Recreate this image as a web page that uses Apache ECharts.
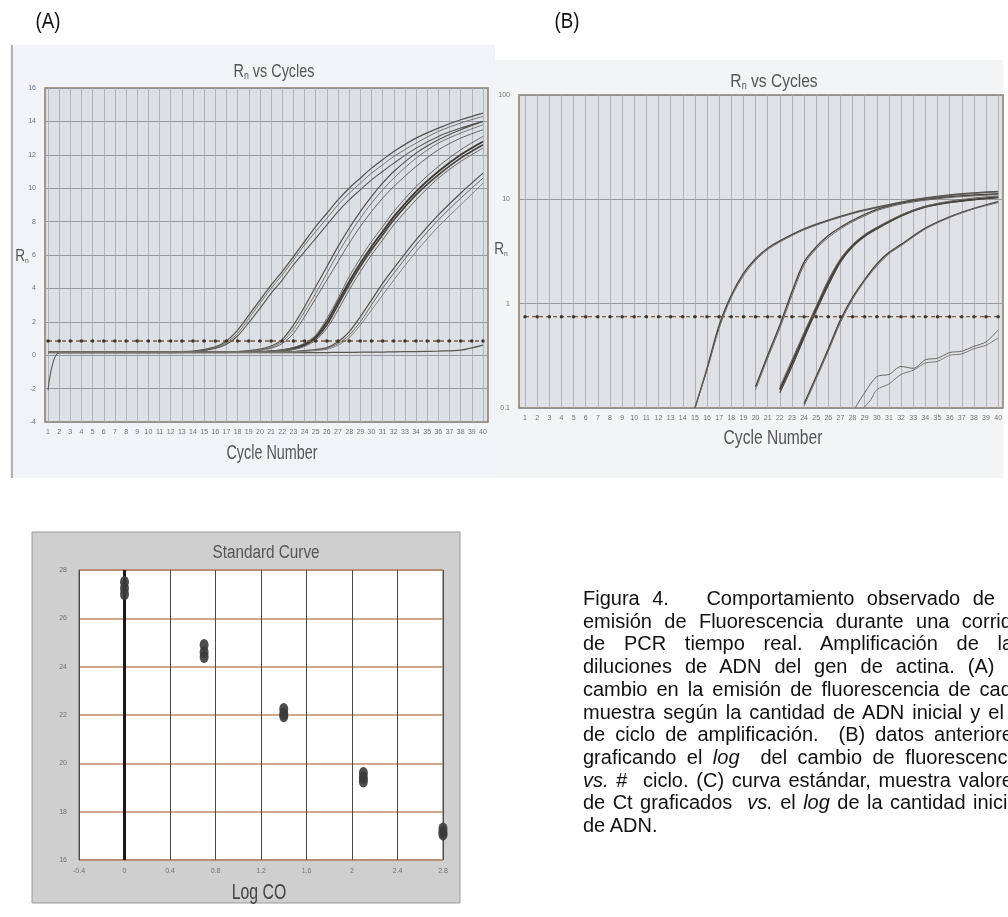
<!DOCTYPE html>
<html><head><meta charset="utf-8">
<script src="https://cdn.jsdelivr.net/npm/echarts@6/dist/echarts.min.js"></script>
<style>
html,body{margin:0;padding:0;width:1008px;height:917px;overflow:hidden;background:#fff;}
#chart{position:absolute;left:0;top:0;width:1008px;height:917px;}
#caption{position:absolute;left:583px;top:587px;width:440px;font-family:'Liberation Sans',Arial,sans-serif;font-size:20px;line-height:22.7px;color:#111;}
#caption div{white-space:nowrap;text-align:justify;text-align-last:justify;}
#caption div.last{text-align-last:left;}
</style></head>
<body>
<div id="chart"></div>
<div id="caption">
<div>Figura 4.&nbsp;&nbsp; Comportamiento observado de la</div>
<div>emisión de Fluorescencia durante una corrida</div>
<div>de PCR tiempo real. Amplificación de las</div>
<div>diluciones de ADN del gen de actina. (A) el</div>
<div>cambio en la emisión de fluorescencia de cada</div>
<div>muestra según la cantidad de ADN inicial y el #</div>
<div>de ciclo de amplificación.&nbsp; (B) datos anteriores</div>
<div>graficando el <i>log</i>&nbsp; del cambio de fluorescencia</div>
<div><i>vs.</i> #&nbsp; ciclo. (C) curva estándar, muestra valores</div>
<div>de Ct graficados&nbsp; <i>vs.</i> el <i>log</i> de la cantidad inicial</div>
<div class="last">de ADN.</div>
</div>
<script>
// ---------- tick labels ----------
const cycleTicks = [1,2,3,4,5,6,7,8,9,10,11,12,13,14,15,16,17,18,19,20,21,22,23,24,25,26,27,28,29,30,31,32,33,34,35,36,37,38,39,40];

// ---------- (A) linear Rn vs cycles ----------
const cyclesA = [1, 2, 5, 10, 14, 16, 17, 18, 19, 20, 21, 22, 23, 24, 25, 26, 27, 28, 29, 30, 31, 32, 34, 36, 38, 40];
const A_g1a = [0.2,0.2,0.2,0.2,0.25,0.5,0.85,1.5,2.4,3.3,4.2,5.0,5.9,6.8,7.7,8.5,9.3,10.0,10.6,11.2,11.7,12.2,13.0,13.6,14.1,14.5];
const A_g1b = [0.2,0.2,0.2,0.2,0.22,0.45,0.75,1.3,2.2,3.1,4.0,4.8,5.7,6.6,7.4,8.2,9.0,9.7,10.3,10.9,11.4,11.9,12.7,13.4,13.9,14.3];
const A_g1c = [-2.1,0.15,0.15,0.15,0.2,0.4,0.65,1.15,1.95,2.8,3.7,4.5,5.4,6.2,7.0,7.8,8.6,9.3,9.9,10.5,11.0,11.5,12.4,13.1,13.6,14.0];
const A_g2a = [0.2,0.2,0.2,0.2,0.2,0.2,0.2,0.22,0.27,0.36,0.55,0.95,1.8,2.9,4.1,5.3,6.5,7.6,8.6,9.5,10.3,11.0,12.1,12.9,13.5,14.0];
const A_g2b = [0.2,0.2,0.2,0.2,0.2,0.2,0.2,0.21,0.25,0.32,0.48,0.82,1.55,2.6,3.7,4.9,6.1,7.2,8.2,9.1,9.9,10.6,11.8,12.7,13.3,13.8];
const A_g2c = [0.15,0.15,0.15,0.15,0.15,0.15,0.15,0.18,0.22,0.28,0.42,0.7,1.3,2.3,3.4,4.5,5.6,6.7,7.7,8.6,9.4,10.1,11.3,12.3,13.0,13.5];
const A_g3a = [0.2,0.2,0.2,0.2,0.2,0.2,0.2,0.2,0.2,0.2,0.24,0.3,0.42,0.65,1.1,2.0,3.2,4.4,5.5,6.5,7.4,8.3,9.8,11.0,12.0,12.8];
const A_g3b = [0.2,0.2,0.2,0.2,0.2,0.2,0.2,0.2,0.2,0.2,0.23,0.28,0.38,0.6,1.0,1.8,3.0,4.2,5.3,6.3,7.2,8.1,9.6,10.8,11.8,12.6];
const A_g3c = [0.18,0.18,0.18,0.18,0.18,0.18,0.18,0.18,0.18,0.18,0.2,0.25,0.34,0.52,0.9,1.6,2.7,3.9,5.0,6.0,6.9,7.8,9.3,10.6,11.6,12.4];
const A_g3d = [0.2,0.2,0.2,0.2,0.2,0.2,0.2,0.2,0.2,0.2,0.25,0.32,0.46,0.72,1.2,2.2,3.4,4.7,5.8,6.8,7.7,8.6,10.1,11.3,12.3,13.1];
const A_g4a = [0.2,0.2,0.2,0.2,0.2,0.2,0.2,0.2,0.2,0.2,0.2,0.2,0.22,0.27,0.34,0.45,0.8,1.4,2.3,3.3,4.3,5.2,6.9,8.4,9.7,10.9];
const A_g4b = [0.2,0.2,0.2,0.2,0.2,0.2,0.2,0.2,0.2,0.2,0.2,0.2,0.21,0.25,0.31,0.4,0.7,1.2,2.0,3.0,4.0,4.9,6.6,8.1,9.4,10.6];
const A_g4c = [0.18,0.18,0.18,0.18,0.18,0.18,0.18,0.18,0.18,0.18,0.18,0.18,0.19,0.22,0.28,0.35,0.6,1.05,1.8,2.7,3.6,4.5,6.2,7.7,9.0,10.3];
const A_ntc = [0.15,0.15,0.15,0.15,0.15,0.15,0.15,0.15,0.15,0.15,0.15,0.15,0.15,0.16,0.16,0.16,0.17,0.17,0.18,0.18,0.19,0.2,0.22,0.25,0.3,0.6];
const thresholdA = 0.85;

// ---------- (B) log Rn vs cycles ----------
const B_g1_cyc = [15, 16, 17, 18, 19, 20, 21, 22, 24, 26, 28, 30, 32, 34, 36, 38, 40];
const B_g1a = [0.1, 0.24, 0.62, 1.2, 1.95, 2.7, 3.4, 4.0, 5.2, 6.3, 7.4, 8.4, 9.4, 10.3, 11.0, 11.5, 11.9];
const B_g1b = [0.1, 0.23, 0.58, 1.15, 1.85, 2.6, 3.3, 3.9, 5.1, 6.2, 7.3, 8.3, 9.3, 10.2, 10.9, 11.4, 11.8];
const B_g2_cyc = [20, 21, 22, 23, 24, 25, 26, 27, 28, 30, 32, 34, 36, 38, 40];
const B_g2a = [0.16, 0.32, 0.62, 1.3, 2.5, 3.5, 4.5, 5.4, 6.3, 8.0, 9.2, 10.0, 10.6, 11.0, 11.3];
const B_g2b = [0.15, 0.3, 0.58, 1.2, 2.35, 3.35, 4.3, 5.2, 6.1, 7.8, 9.0, 9.8, 10.4, 10.8, 11.1];
const B_g3_cyc = [22, 23, 24, 25, 26, 27, 28, 29, 30, 32, 34, 36, 38, 40];
const B_g3a = [0.15, 0.27, 0.5, 0.9, 1.6, 2.6, 3.6, 4.5, 5.3, 7.0, 8.5, 9.4, 10.0, 10.5];
const B_g3b = [0.14, 0.25, 0.47, 0.85, 1.5, 2.5, 3.5, 4.4, 5.2, 6.9, 8.4, 9.3, 9.9, 10.4];
const B_g3c = [0.16, 0.29, 0.53, 0.95, 1.7, 2.7, 3.7, 4.6, 5.4, 7.1, 8.6, 9.6, 10.3, 10.8];
const B_g4_cyc = [24, 25, 26, 27, 28, 29, 30, 31, 32, 34, 36, 38, 40];
const B_g4a = [0.11, 0.2, 0.37, 0.7, 1.15, 1.7, 2.4, 3.1, 3.7, 5.3, 6.8, 8.2, 9.5];
const B_g4b = [0.105, 0.19, 0.35, 0.66, 1.1, 1.65, 2.3, 3.0, 3.6, 5.2, 6.7, 8.1, 9.3];
const B_ntc1_cyc = [28.2, 29, 30, 31, 32, 33, 34, 35, 36, 37, 38, 39, 40];
const B_ntc1 = [0.1, 0.14, 0.2, 0.21, 0.25, 0.24, 0.29, 0.3, 0.34, 0.35, 0.39, 0.43, 0.56];
const B_ntc2_cyc = [28.9, 29.5, 30, 31, 32, 33, 34, 35, 36, 37, 38, 39, 40];
const B_ntc2 = [0.1, 0.12, 0.15, 0.17, 0.21, 0.23, 0.27, 0.28, 0.32, 0.33, 0.37, 0.4, 0.47];
const thresholdB = 0.75;

// ---------- (C) standard curve ----------
const logCO = [0, 0, 0, 0.7, 0.7, 0.7, 1.4, 1.4, 1.4, 2.1, 2.1, 2.1, 2.8, 2.8, 2.8];
const ctVals = [27.5, 27.25, 27.0, 24.9, 24.6, 24.4, 22.25, 22.05, 21.95, 19.6, 19.4, 19.25, 17.3, 17.15, 17.05];

// ---------- build ----------
const FONT = "'Liberation Sans',Arial,sans-serif";
function zip(xs, ys) { return xs.map((x, i) => [x, ys[i]]); }
function curve(idx, xs, ys, color, width) {
  return { type: 'line', xAxisIndex: idx, yAxisIndex: idx, data: zip(xs, ys), smooth: 0.3,
    showSymbol: false, symbol: 'none', lineStyle: { color: color, width: width }, z: 3, silent: true };
}
function threshold(idx, val) {
  return { type: 'line', xAxisIndex: idx, yAxisIndex: idx, data: cycleTicks.map(c => [c, val]),
    symbol: 'circle', symbolSize: 3.5, itemStyle: { color: '#3c3630' },
    lineStyle: { color: '#7a5a40', width: 1.3, type: [4, 3] }, z: 4, silent: true };
}
function label(x, y, text, size, color, sx, rich) {
  const st = { text: text, fontSize: size, fontFamily: FONT, fill: color, align: 'center', verticalAlign: 'middle' };
  if (rich) st.rich = rich;
  return { type: 'text', z: 10, x: x, y: y, scaleX: sx, style: st };
}
const subRich = (s) => ({ s: { fontSize: s, fontFamily: FONT, fill: '#555', verticalAlign: 'bottom' } });
const series = [
  curve(0, cyclesA, A_ntc, '#5a5652', 1.3),
  curve(0, cyclesA, A_g1a, '#55514d', 1.2), curve(0, cyclesA, A_g1b, '#75716d', 1), curve(0, cyclesA, A_g1c, '#5a5652', 1.1),
  curve(0, cyclesA, A_g2a, '#55514d', 1.2), curve(0, cyclesA, A_g2b, '#77736f', 1), curve(0, cyclesA, A_g2c, '#66625e', 1),
  curve(0, cyclesA, A_g3a, '#3c3834', 1.8), curve(0, cyclesA, A_g3b, '#45413d', 1.6), curve(0, cyclesA, A_g3c, '#6a6662', 1), curve(0, cyclesA, A_g3d, '#6a6662', 1),
  curve(0, cyclesA, A_g4a, '#55514d', 1.2), curve(0, cyclesA, A_g4b, '#6a6662', 1), curve(0, cyclesA, A_g4c, '#85817d', 1),
  threshold(0, thresholdA),
  curve(1, B_g1_cyc, B_g1a, '#4a4642', 1.4), curve(1, B_g1_cyc, B_g1b, '#6a6662', 1),
  curve(1, B_g2_cyc, B_g2a, '#4a4642', 1.4), curve(1, B_g2_cyc, B_g2b, '#6a6662', 1),
  curve(1, B_g3_cyc, B_g3a, '#3a3632', 1.8), curve(1, B_g3_cyc, B_g3b, '#4a4642', 1.3), curve(1, B_g3_cyc, B_g3c, '#6a6662', 1),
  curve(1, B_g4_cyc, B_g4a, '#4a4642', 1.4), curve(1, B_g4_cyc, B_g4b, '#6a6662', 1),
  curve(1, B_ntc1_cyc, B_ntc1, '#6a6662', 1), curve(1, B_ntc2_cyc, B_ntc2, '#7a7672', 1),
  threshold(1, thresholdB),
  { type: 'scatter', xAxisIndex: 2, yAxisIndex: 2, data: zip(logCO, ctVals), symbol: 'circle', symbolSize: [9, 12],
    itemStyle: { color: '#3a3a3a', opacity: 0.9 }, z: 5, silent: true,
    markLine: { silent: true, symbol: 'none', label: { show: false }, data: [{ xAxis: 0 }],
      lineStyle: { color: '#1a1a1a', width: 3, type: 'solid' } } }
];

const cycAxisLabel = { customValues: cycleTicks, fontSize: 7, color: '#707070', margin: 7, fontFamily: FONT };
const option = {
  animation: false,
  grid: [
    { left: 45, top: 88, width: 443, height: 334, show: true, backgroundColor: '#dcdfe3', borderColor: '#8d7b68', borderWidth: 1.5 },
    { left: 519, top: 95, width: 484, height: 313, show: true, backgroundColor: '#dfe1e4', borderColor: '#8d7b68', borderWidth: 1.5 },
    { left: 79, top: 570, width: 364, height: 290, show: true, backgroundColor: '#ffffff', borderColor: '#555555', borderWidth: 1 }
  ],
  xAxis: [
    { gridIndex: 0, type: 'value', min: 0.73, max: 40.45, axisLine: { show: false }, axisTick: { show: false, customValues: cycleTicks },
      axisLabel: cycAxisLabel, splitLine: { show: true, lineStyle: { color: '#a3a8ae', width: 0.8 } } },
    { gridIndex: 1, type: 'value', min: 0.5, max: 40.4, axisLine: { show: false }, axisTick: { show: false, customValues: cycleTicks },
      axisLabel: cycAxisLabel, splitLine: { show: true, lineStyle: { color: '#a3a8ae', width: 0.8 } } },
    { gridIndex: 2, type: 'value', min: -0.4, max: 2.8, interval: 0.4, axisLine: { show: false }, axisTick: { show: false },
      axisLabel: { fontSize: 7, color: '#707070', margin: 8, fontFamily: FONT },
      splitLine: { show: true, lineStyle: { color: '#4a4a4a', width: 1 } } }
  ],
  yAxis: [
    { gridIndex: 0, type: 'value', min: -4, max: 16, interval: 2, axisLine: { show: false }, axisTick: { show: false },
      axisLabel: { fontSize: 7, color: '#707070', margin: 9, fontFamily: FONT },
      splitLine: { show: true, lineStyle: { color: '#8c9197', width: 0.9 } } },
    { gridIndex: 1, type: 'log', logBase: 10, min: 0.1, max: 100, axisLine: { show: false }, axisTick: { show: false },
      axisLabel: { fontSize: 7, color: '#707070', margin: 9, fontFamily: FONT },
      splitLine: { show: true, lineStyle: { color: '#8c9197', width: 0.9 } } },
    { gridIndex: 2, type: 'value', min: 16, max: 28, interval: 2, axisLine: { show: false }, axisTick: { show: false },
      axisLabel: { fontSize: 7, color: '#707070', margin: 12, fontFamily: FONT },
      splitLine: { show: true, lineStyle: { color: '#c08a68', width: 1.5 } } }
  ],
  graphic: [
    { type: 'rect', z: -10, shape: { x: 10, y: 45, width: 485, height: 433 }, style: { fill: '#f1f3f6' } },
    { type: 'line', z: -9, shape: { x1: 12, y1: 45, x2: 12, y2: 478 }, style: { stroke: '#9a9a9a', lineWidth: 1.5 } },
    { type: 'rect', z: -10, shape: { x: 495, y: 60, width: 508, height: 418 }, style: { fill: '#f3f4f6' } },
    { type: 'rect', z: -10, shape: { x: 32, y: 532, width: 428, height: 371 }, style: { fill: '#cfcfcf', stroke: '#9a9a9a', lineWidth: 1 } },
    label(48, 22, '(A)', 22, '#111', 0.85),
    label(567, 22, '(B)', 22, '#111', 0.85),
    label(274, 72, 'R{s|n} vs Cycles', 18, '#555', 0.8, subRich(11)),
    label(774, 82, 'R{s|n} vs Cycles', 19, '#555', 0.82, subRich(11)),
    label(272, 453, 'Cycle Number', 20, '#555', 0.72),
    label(773, 438, 'Cycle Number', 20, '#555', 0.78),
    label(22, 257, 'R{s|n}', 16, '#555', 0.85, subRich(8)),
    label(501, 250, 'R{s|n}', 16, '#555', 0.85, subRich(8)),
    label(266, 553, 'Standard Curve', 18, '#555', 0.85),
    label(259, 893, 'Log CO', 22, '#444', 0.72)
  ],
  series: series
};
const chart = echarts.init(document.getElementById('chart'), null, { renderer: 'canvas' });
chart.setOption(option);
</script>
</body></html>
